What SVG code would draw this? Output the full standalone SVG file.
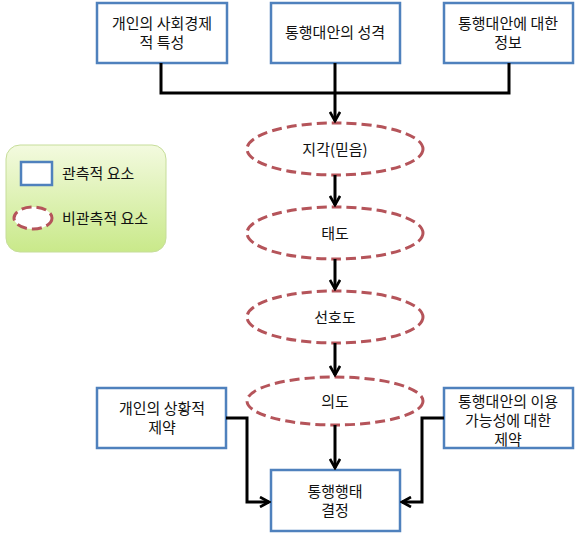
<svg xmlns="http://www.w3.org/2000/svg" width="576" height="534" viewBox="0 0 576 534">
<defs>
<linearGradient id="lg" x1="0" y1="0" x2="0" y2="1">
<stop offset="0" stop-color="#f3fadf"/>
<stop offset="1" stop-color="#c9e98a"/>
</linearGradient>
<marker id="ah" viewBox="0 0 12 12" refX="10" refY="6" markerWidth="12" markerHeight="12" markerUnits="userSpaceOnUse" orient="auto">
<path d="M1,1 L10,6 L1,11" fill="none" stroke="#000" stroke-width="2.6"/>
</marker>
</defs>
<style>
.box{fill:#fff;stroke:#4f81bd;stroke-width:2.5}
.ell{fill:#fff;stroke:#b5545a;stroke-width:3;stroke-dasharray:10 5}
.t{font-family:"Noto Sans CJK KR","Malgun Gothic",sans-serif;font-size:15px;fill:#111;text-anchor:middle}
.tl{font-family:"Noto Sans CJK KR","Malgun Gothic",sans-serif;font-size:15px;fill:#111}
.c{fill:none;stroke:#000;stroke-width:3}
</style>
<rect width="576" height="534" fill="#fff"/>
<g id="legend">
<rect x="6" y="145" width="160" height="107" rx="14" fill="url(#lg)" stroke="#c6dd9a" stroke-width="1"/>
<rect x="21" y="162" width="31" height="23" class="box"/>
<text x="62" y="179" class="tl">관측적 요소</text>
<ellipse cx="33" cy="218" rx="19" ry="11" class="ell" stroke-dasharray="6 4"/>
<text x="62" y="224" class="tl">비관측적 요소</text>
</g>
<g id="n1"><rect x="97" y="3" width="130" height="60" class="box"/><text x="162" y="29" class="t">개인의 사회경제</text><text x="162" y="48" class="t">적 특성</text></g>
<g id="n2"><rect x="271" y="3" width="129" height="60" class="box"/><text x="335" y="38" class="t">통행대안의 성격</text></g>
<g id="n3"><rect x="444" y="3" width="129" height="60" class="box"/><text x="508" y="29" class="t">통행대안에 대한</text><text x="508" y="48" class="t">정보</text></g>
<g id="e1"><ellipse cx="335" cy="149" rx="88" ry="26" class="ell"/><text x="335" y="155" class="t">지각(믿음)</text></g>
<g id="e2"><ellipse cx="335" cy="233" rx="88" ry="26" class="ell"/><text x="335" y="239" class="t">태도</text></g>
<g id="e3"><ellipse cx="335" cy="317" rx="88" ry="26" class="ell"/><text x="335" y="323" class="t">선호도</text></g>
<g id="e4"><ellipse cx="335" cy="401" rx="88" ry="24" class="ell"/><text x="335" y="407" class="t">의도</text></g>
<g id="n4"><rect x="97" y="388" width="129" height="60" class="box"/><text x="162" y="414" class="t">개인의 상황적</text><text x="162" y="433" class="t">제약</text></g>
<g id="n5"><rect x="444" y="388" width="129" height="60" class="box"/><text x="508" y="407" class="t">통행대안의 이용</text><text x="508" y="426" class="t">가능성에 대한</text><text x="508" y="445" class="t">제약</text></g>
<g id="n6"><rect x="271" y="470" width="129" height="61" class="box"/><text x="335" y="497" class="t">통행행태</text><text x="335" y="516" class="t">결정</text></g>
<g id="connectors">
<path d="M161,63 V93 H509 V63" class="c"/>
<path d="M335,63 V121" class="c" marker-end="url(#ah)"/>
<path d="M335,175 V205" class="c" marker-end="url(#ah)"/>
<path d="M335,259 V289" class="c" marker-end="url(#ah)"/>
<path d="M335,343 V375" class="c" marker-end="url(#ah)"/>
<path d="M335,425 V468" class="c" marker-end="url(#ah)"/>
<path d="M226,418 H247 V502 H269" class="c" marker-end="url(#ah)"/>
<path d="M444,418 H422 V502 H402" class="c" marker-end="url(#ah)"/>
</g>
</svg>
